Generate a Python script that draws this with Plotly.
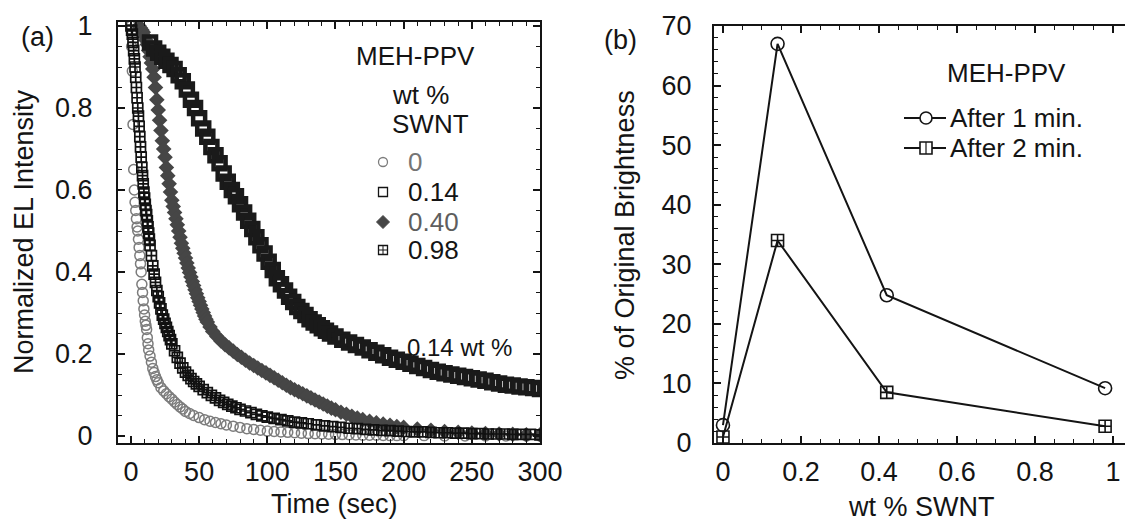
import plotly.graph_objects as go

# ---- panel (a): normalized EL intensity vs time, one series per SWNT loading
t_0 = [0, 0.5, 1, 1.5, 2, 2.5, 3, 3.5, 4, 4.5, 5, 5.5, 6, 6.5, 7, 7.5, 8, 8.5, 9, 9.5,
       10, 10.5, 11, 11.5, 12, 12.5, 13, 14, 15, 16, 17, 18, 19, 20, 22, 24, 26, 28, 30, 32,
       34, 36, 38, 40, 43, 46, 50, 54, 58, 62, 66, 70, 75, 80, 85, 90, 95, 100, 105, 110,
       115, 120, 125, 130, 135, 140, 145, 150, 155, 160, 165, 170, 175, 180, 185, 190, 195, 200, 215, 230,
       245, 260, 275, 290, 300]
el_0 = [1.0, 0.95, 0.89, 0.76, 0.65, 0.6, 0.57, 0.55, 0.53, 0.51, 0.5, 0.48, 0.46, 0.44, 0.42, 0.4, 0.37, 0.35, 0.33, 0.31,
        0.295, 0.28, 0.27, 0.26, 0.24, 0.225, 0.21, 0.195, 0.18, 0.165, 0.155, 0.145, 0.137, 0.13, 0.118, 0.11, 0.103, 0.096, 0.09, 0.083,
        0.077, 0.071, 0.066, 0.06, 0.055, 0.05, 0.045, 0.04, 0.036, 0.033, 0.03, 0.027, 0.024, 0.021, 0.018, 0.016, 0.014, 0.012, 0.011, 0.01,
        0.009, 0.008, 0.007, 0.006, 0.0055, 0.005, 0.0045, 0.004, 0.0035, 0.003, 0.0025, 0.002, 0.002, 0.002, 0.0015, 0.001, 0.001, 0.001, 0.001, 0.0,
        0.0, 0.0, 0.0, 0.0, 0.0]

t_14 = [14, 17, 20, 23, 26, 29, 32, 35, 38, 41, 44, 47, 50, 53, 56, 59, 62, 65, 68, 71,
        74, 77, 80, 83, 86, 89, 92, 95, 98, 101, 104, 107, 110, 113, 116, 119, 122, 125, 128, 131,
        134, 137, 140, 143, 146, 150, 155, 160, 165, 170, 175, 180, 185, 190, 195, 200, 205, 210, 215, 220,
        225, 230, 235, 240, 245, 250, 255, 260, 265, 270, 275, 280, 285, 290, 295, 300]
el_14 = [0.96, 0.945, 0.935, 0.925, 0.915, 0.905, 0.895, 0.88, 0.865, 0.845, 0.82, 0.8, 0.775, 0.75, 0.73, 0.705, 0.685, 0.665, 0.64, 0.62,
         0.6, 0.585, 0.565, 0.545, 0.525, 0.505, 0.485, 0.465, 0.445, 0.425, 0.405, 0.385, 0.37, 0.355, 0.34, 0.327, 0.315, 0.305, 0.295, 0.285,
         0.277, 0.27, 0.263, 0.257, 0.25, 0.243, 0.235, 0.228, 0.222, 0.216, 0.209, 0.203, 0.197, 0.191, 0.186, 0.181, 0.176, 0.171, 0.166, 0.161,
         0.157, 0.153, 0.15, 0.147, 0.144, 0.141, 0.138, 0.135, 0.131, 0.128, 0.125, 0.123, 0.121, 0.119, 0.117, 0.115]

t_40 = [6, 7, 8, 9, 10, 11, 12, 13, 14, 15, 16, 17, 18, 19, 20, 21, 22, 23, 24, 25,
        26, 27, 28, 29, 30, 31, 32, 33, 34, 35, 36, 37, 38, 39, 40, 41, 42, 43, 44, 45,
        46, 47, 48, 49, 50, 51, 52, 53, 54, 55, 56, 58, 60, 63, 66, 69, 72, 75, 78, 81,
        84, 87, 90, 93, 96, 99, 102, 105, 108, 111, 114, 117, 120, 123, 126, 129, 132, 135, 138, 141,
        144, 147, 150, 154, 158, 162, 166, 170, 175, 180, 185, 190, 195, 200, 210, 220, 230, 240, 250, 260,
        270, 280, 290, 300]
el_40 = [1.0, 0.995, 0.99, 0.985, 0.975, 0.965, 0.955, 0.94, 0.925, 0.91, 0.895, 0.875, 0.85, 0.82, 0.795, 0.77, 0.745, 0.72, 0.7, 0.68,
         0.655, 0.635, 0.615, 0.595, 0.575, 0.56, 0.545, 0.53, 0.515, 0.5, 0.485, 0.47, 0.458, 0.446, 0.434, 0.422, 0.41, 0.399, 0.388, 0.377,
         0.367, 0.357, 0.347, 0.337, 0.328, 0.319, 0.31, 0.301, 0.293, 0.285, 0.278, 0.266, 0.255, 0.243, 0.232, 0.223, 0.215, 0.207, 0.199, 0.192,
         0.185, 0.178, 0.172, 0.166, 0.16, 0.154, 0.148, 0.142, 0.136, 0.13, 0.124, 0.118, 0.113, 0.108, 0.103, 0.098, 0.093, 0.088, 0.083, 0.078,
         0.073, 0.068, 0.064, 0.058, 0.053, 0.048, 0.044, 0.04, 0.036, 0.032, 0.029, 0.026, 0.023, 0.021, 0.017, 0.014, 0.011, 0.009, 0.007, 0.006,
         0.005, 0.004, 0.003, 0.003]

t_98 = [0, 0.5, 1, 1.5, 2, 2.5, 3, 3.5, 4, 4.5, 5, 5.5, 6, 6.5, 7, 7.5, 8, 8.5, 9, 9.5,
        10, 10.5, 11, 11.5, 12, 12.5, 13, 13.5, 14, 15, 16, 17, 18, 19, 20, 21, 22, 23, 24, 25,
        26, 27, 28, 29, 30, 32, 34, 36, 38, 40, 42, 44, 46, 48, 50, 53, 56, 59, 62, 65,
        68, 71, 74, 77, 80, 84, 88, 92, 96, 100, 105, 110, 115, 120, 125, 130, 136, 142, 148, 154,
        160, 166, 172, 178, 184, 190, 196, 202, 208, 214, 220, 226, 232, 238, 244, 250, 256, 262, 268, 274,
        280, 286, 293, 300]
el_98 = [1.0, 0.99, 0.98, 0.96, 0.94, 0.92, 0.9, 0.875, 0.85, 0.825, 0.8, 0.78, 0.755, 0.73, 0.705, 0.68, 0.655, 0.635, 0.615, 0.595,
         0.58, 0.565, 0.55, 0.54, 0.525, 0.51, 0.495, 0.48, 0.465, 0.44, 0.415, 0.395, 0.375, 0.355, 0.34, 0.325, 0.31, 0.295, 0.285, 0.275,
         0.265, 0.255, 0.245, 0.235, 0.225, 0.208, 0.192, 0.178, 0.166, 0.156, 0.148, 0.14, 0.133, 0.127, 0.121, 0.113, 0.106, 0.099, 0.093, 0.087,
         0.082, 0.077, 0.073, 0.069, 0.065, 0.061, 0.057, 0.053, 0.049, 0.046, 0.043, 0.04, 0.037, 0.034, 0.032, 0.03, 0.027, 0.025, 0.023, 0.021,
         0.019, 0.018, 0.016, 0.015, 0.014, 0.013, 0.012, 0.011, 0.01, 0.01, 0.009, 0.008, 0.008, 0.007, 0.007, 0.006, 0.006, 0.005, 0.005, 0.005,
         0.004, 0.004, 0.004, 0.003]

# ---- panel (b): % of original brightness vs SWNT loading
wt_swnt = [0, 0.14, 0.42, 0.98]
after_1min = [3.0, 67.0, 24.8, 9.2]
after_2min = [1.0, 34.0, 8.5, 2.8]

legend_a = ["0", "0.14", "0.40", "0.98"]
legend_b = ["After 1 min.", "After 2 min."]

FONT = "Liberation Sans, Arial, sans-serif"
INK = "#141414"
GREY0 = "#7c7c7c"
GREY40 = "#464646"
W, H = 1125, 522


def px(x):
    return x / W


def py(y):
    return 1 - y / H


fig = go.Figure()

# drawn back to front like the original: 0, 0.40, 0.14, 0.98 on top
fig.add_trace(go.Scatter(
    x=t_0, y=el_0, mode="markers", name=legend_a[0],
    marker=dict(symbol="circle-open", size=10, color=GREY0, line=dict(width=1.5))))
fig.add_trace(go.Scatter(
    x=t_40, y=el_40, mode="markers", name=legend_a[2],
    marker=dict(symbol="diamond", size=12, color=GREY40)))
fig.add_trace(go.Scatter(
    x=t_14, y=el_14, mode="markers", name=legend_a[1],
    marker=dict(symbol="square-open", size=12, color="#1a1a1a", line=dict(width=4.5))))
fig.add_trace(go.Scatter(
    x=t_98, y=el_98, mode="markers", name=legend_a[3],
    marker=dict(symbol="square-cross-open", size=10, color="#111111", line=dict(width=1.7))))

fig.add_trace(go.Scatter(
    x=wt_swnt, y=after_1min, mode="lines+markers", name=legend_b[0],
    line=dict(color=INK, width=2),
    marker=dict(symbol="circle-open", size=13, color=INK, line=dict(width=1.6)),
    xaxis="x2", yaxis="y2"))
fig.add_trace(go.Scatter(
    x=wt_swnt, y=after_2min, mode="lines+markers", name=legend_b[1],
    line=dict(color=INK, width=2),
    marker=dict(symbol="square-cross-open", size=12, color=INK, line=dict(width=1.6)),
    xaxis="x2", yaxis="y2"))

axis_common = dict(
    showline=True, linecolor=INK, linewidth=2, mirror="allticks",
    ticks="inside", ticklen=7, tickwidth=1.6, tickcolor=INK,
    showgrid=False, zeroline=False,
    tickfont=dict(family=FONT, size=27, color=INK),
)
minor_common = dict(ticks="inside", ticklen=4, tickcolor=INK, tickwidth=1.4)

# hand-made legends (the original packs the entries tighter than plotly's legend does)
shapes = []
key_x = 383
# (a) keys: open circle, open square, filled diamond, crossed square
shapes.append(dict(type="circle", xref="paper", yref="paper",
                   x0=px(key_x - 4.5), x1=px(key_x + 4.5), y0=py(162 + 4.5), y1=py(162 - 4.5),
                   line=dict(color=GREY0, width=1.3)))
shapes.append(dict(type="rect", xref="paper", yref="paper",
                   x0=px(key_x - 4.5), x1=px(key_x + 4.5), y0=py(192 + 4.5), y1=py(192 - 4.5),
                   line=dict(color=INK, width=1.3)))
shapes.append(dict(type="path", xref="paper", yref="paper",
                   path=f"M {px(key_x - 6.5)},{py(222)} L {px(key_x)},{py(215.5)} "
                        f"L {px(key_x + 6.5)},{py(222)} L {px(key_x)},{py(228.5)} Z",
                   fillcolor=GREY40, line=dict(color=GREY40, width=1)))
shapes.append(dict(type="rect", xref="paper", yref="paper",
                   x0=px(key_x - 4.5), x1=px(key_x + 4.5), y0=py(250 + 4.5), y1=py(250 - 4.5),
                   line=dict(color=INK, width=1.3)))
shapes.append(dict(type="line", xref="paper", yref="paper",
                   x0=px(key_x), x1=px(key_x), y0=py(250 + 4.5), y1=py(250 - 4.5),
                   line=dict(color=INK, width=1)))
shapes.append(dict(type="line", xref="paper", yref="paper",
                   x0=px(key_x - 4.5), x1=px(key_x + 4.5), y0=py(250), y1=py(250),
                   line=dict(color=INK, width=1)))
# (b) keys: line with open circle, line with crossed square
for ky in (118, 148):
    shapes.append(dict(type="line", xref="paper", yref="paper",
                       x0=px(904), x1=px(946), y0=py(ky), y1=py(ky),
                       line=dict(color=INK, width=2)))
shapes.append(dict(type="circle", xref="paper", yref="paper",
                   x0=px(926 - 6), x1=px(926 + 6), y0=py(118 + 6), y1=py(118 - 6),
                   fillcolor="white", line=dict(color=INK, width=1.6)))
shapes.append(dict(type="rect", xref="paper", yref="paper",
                   x0=px(926 - 6), x1=px(926 + 6), y0=py(148 + 6), y1=py(148 - 6),
                   fillcolor="white", line=dict(color=INK, width=1.6)))
shapes.append(dict(type="line", xref="paper", yref="paper",
                   x0=px(926), x1=px(926), y0=py(148 + 6), y1=py(148 - 6),
                   line=dict(color=INK, width=1.2)))


def label(text, x, y, size=27, color=INK, xanchor="center", angle=0):
    return dict(text=text, x=px(x), y=py(y), xref="paper", yref="paper",
                xanchor=xanchor, yanchor="middle", textangle=angle, showarrow=False,
                font=dict(family=FONT, size=size, color=color))


annotations = [
    label("(a)", 37, 37),
    label("(b)", 620, 40),
    label("Normalized EL Intensity", 24, 232, angle=-90),
    label("% of Original Brightness", 625, 235, angle=-90),
    label("Time (sec)", 335, 504),
    label("wt % SWNT", 921, 507),
    label("MEH-PPV", 415, 56, size=26),
    label("wt %", 420, 95, size=26),
    label("SWNT", 430, 124, size=26),
    label(legend_a[0], 406, 162, size=26, color="#757575", xanchor="left"),
    label(legend_a[1], 406, 192, size=26, xanchor="left"),
    label(legend_a[2], 406, 222, size=26, color="#5e5e5e", xanchor="left"),
    label(legend_a[3], 406, 250, size=26, xanchor="left"),
    label("MEH-PPV", 1006, 73, size=26),
    label(legend_b[0], 948, 118, size=26, xanchor="left"),
    label(legend_b[1], 948, 148, size=26, xanchor="left"),
    dict(text="0.14 wt %", x=241, y=0.217, xref="x", yref="y", showarrow=False,
         font=dict(family=FONT, size=24, color=INK)),
]

fig.update_layout(
    width=W, height=H, autosize=False,
    margin=dict(l=0, r=0, t=0, b=0, autoexpand=False),
    paper_bgcolor="white", plot_bgcolor="white",
    font=dict(family=FONT, size=27, color=INK),
    showlegend=False,
    xaxis=dict(axis_common, domain=[px(118), px(540)], range=[-9.5, 300],
               tickvals=[0, 50, 100, 150, 200, 250, 300], ticklabelstandoff=4,
               minor=dict(minor_common, dtick=10)),
    yaxis=dict(axis_common, domain=[py(443), py(22)], range=[-0.017, 1.0098],
               tickvals=[0, 0.2, 0.4, 0.6, 0.8, 1], ticklabelstandoff=18,
               minor=dict(minor_common, dtick=0.05)),
    xaxis2=dict(axis_common, domain=[px(714), 1.0], range=[-0.023, 1.031], anchor="y2",
                tickvals=[0, 0.2, 0.4, 0.6, 0.8, 1], ticklabelstandoff=4,
                minor=dict(minor_common, dtick=0.05)),
    yaxis2=dict(axis_common, domain=[py(443), py(26)], range=[0, 70], anchor="x2",
                mirror=False, tickvals=[0, 10, 20, 30, 40, 50, 60, 70], ticklabelstandoff=15,
                minor=dict(minor_common, dtick=2)),
    shapes=shapes,
    annotations=annotations,
)

# the page body keeps the browser's default 8px margin otherwise
fig.write_html("out.html", config={"displayModeBar": False},
               post_script="document.body.style.margin = '0';")
